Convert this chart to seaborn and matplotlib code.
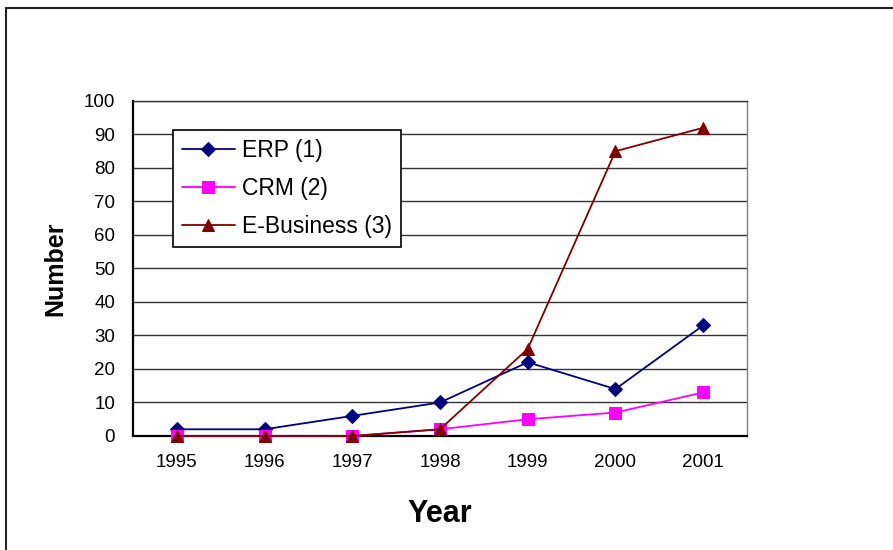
import matplotlib
matplotlib.use('Agg')
import matplotlib.pyplot as plt
import seaborn as sns
from matplotlib.patches import Rectangle
from matplotlib.ticker import FixedLocator

# data
years = ['1995', '1996', '1997', '1998', '1999', '2000', '2001']
erp = [2, 2, 6, 10, 22, 14, 33]
crm = [0, 0, 0, 2, 5, 7, 13]
ebusiness = [0, 0, 0, 2, 26, 85, 92]

series_names = ['ERP (1)', 'CRM (2)', 'E-Business (3)']
series_vals = [erp, crm, ebusiness]
colors = ['#000080', '#FF00FF', '#800000']
markers = ['D', 's', '^']
msizes = [7, 8, 8]

sns.set_style('white')
plt.rcParams['font.family'] = ['Liberation Sans', 'DejaVu Sans']
plt.rcParams['text.color'] = 'black'
plt.rcParams['axes.labelcolor'] = 'black'
plt.rcParams['xtick.color'] = 'black'
plt.rcParams['ytick.color'] = 'black'

fig = plt.figure(figsize=(8.93, 5.5), dpi=100)
ax = fig.add_axes([0.149, 0.2073, 0.6875, 0.6091])

xpos = list(range(len(years)))
for name, vals, c, m, ms in zip(series_names, series_vals, colors, markers, msizes):
    sns.lineplot(x=xpos, y=vals, ax=ax, color=c, marker=m, markersize=ms,
                 markeredgecolor=c, linewidth=1.3, label=name, clip_on=False,
                 zorder=3)

ax.set_xlim(-0.5, 6.5)
ax.set_ylim(0, 100)
ax.set_yticks(range(0, 101, 10))
ax.set_xticks(xpos)
ax.set_xticklabels(years)
ax.xaxis.set_minor_locator(FixedLocator([i - 0.5 for i in range(len(years) + 1)]))
ax.tick_params(axis='x', which='major', length=0, pad=13, labelsize=13.5)
ax.tick_params(axis='x', which='minor', length=5, width=1, color='#555555', direction='out')
ax.tick_params(axis='y', length=5, width=1, color='#555555', direction='out', pad=8, labelsize=13.5)

ax.grid(False)
for v in range(10, 101, 10):
    ax.axhline(v, color='#333333', linewidth=1.0, zorder=0)

for side in ['left', 'bottom']:
    ax.spines[side].set_color('black')
    ax.spines[side].set_linewidth(1.6)
ax.spines['top'].set_color('#333333')
ax.spines['top'].set_linewidth(1.0)
ax.spines['right'].set_color('#808080')
ax.spines['right'].set_linewidth(1.0)

ax.set_xlabel('Year', fontsize=22, fontweight='bold', labelpad=20)
ax.set_ylabel('Number', fontsize=18, fontweight='bold', labelpad=12)

leg = ax.legend(loc='upper left', bbox_to_anchor=(0.065, 0.913), fontsize=16.5,
                frameon=True, fancybox=False, framealpha=1, edgecolor='black',
                borderpad=0.4, labelspacing=0.65, handlelength=2.3,
                handletextpad=0.3, borderaxespad=0)
leg.get_frame().set_linewidth(1.2)
leg.set_zorder(5)

# outer chart frame
fig.patches.append(Rectangle((5.5 / 893, -0.05), 1.2, 1 - 7.5 / 550 + 0.05,
                             transform=fig.transFigure, fill=False,
                             edgecolor='#222222', linewidth=1.5))

fig.savefig('out.png', dpi=100)
